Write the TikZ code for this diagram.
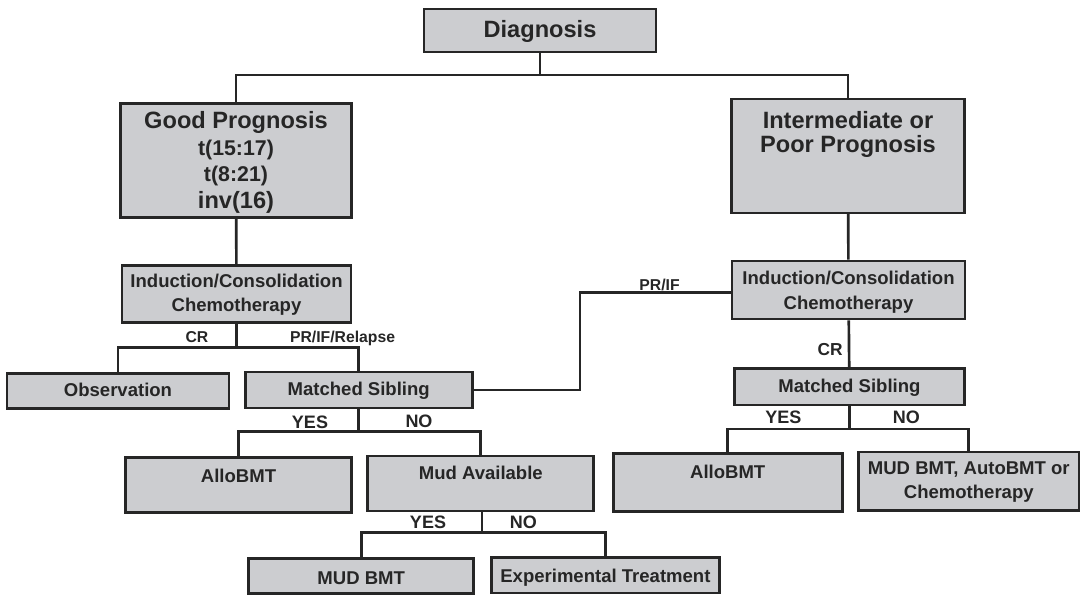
\documentclass[tikz,border=0pt]{standalone}
\usepackage{fontspec}
\setmainfont{Liberation Sans}
\definecolor{boxfill}{RGB}{204,205,208}
\definecolor{ink}{RGB}{38,38,38}
\begin{document}
\begin{tikzpicture}[x=0.75pt,y=-0.75pt,
  box/.style={draw=ink, fill=boxfill, line width=2pt, inner sep=0pt, rectangle},
  conn/.style={draw=ink, line width=2pt},
  txt/.style={anchor=base, inner sep=0pt, text=ink},
  big/.style={txt, font=\fontsize{17.7}{20}\selectfont\bfseries},
  mid/.style={txt, font=\fontsize{16}{18}\selectfont\bfseries},
  med/.style={txt, font=\fontsize{13.9}{16}\selectfont\bfseries},
  lab/.style={txt, font=\fontsize{11.8}{14}\selectfont\bfseries},
  yn/.style={txt, font=\fontsize{13.5}{16}\selectfont\bfseries}]
\useasboundingbox (0,0) rectangle (1083,595);
\fill[white] (0,0) rectangle (1083,595);

% boxes
\node[box, minimum width=174pt, minimum height=32.25pt] (diag) at (540,30.5) {};
\node[box, minimum width=173.25pt, minimum height=85.5pt] (good) at (236,160.3) {};
\node[box, minimum width=174.75pt, minimum height=85.5pt] (inter) at (848,155.9) {};
\node[box, minimum width=171.75pt, minimum height=42.45pt] (ind1) at (236.5,294) {};
\node[box, minimum width=174.75pt, minimum height=43.5pt] (ind2) at (848.5,290) {};
\node[box, minimum width=166.5pt, minimum height=26.55pt] (obs) at (118,391) {};
\node[box, minimum width=170.25pt, minimum height=27pt] (ms1) at (358.7,390) {};
\node[box, minimum width=172.2pt, minimum height=27.2pt] (ms2) at (849.4,386.9) {};
\node[box, minimum width=169.1pt, minimum height=41.25pt] (allo1) at (238.5,484.8) {};
\node[box, minimum width=169.5pt, minimum height=41.25pt] (mud) at (480.8,483.5) {};
\node[box, minimum width=171.75pt, minimum height=43.5pt] (allo2) at (727.7,482.5) {};
\node[box, minimum width=165.3pt, minimum height=44pt] (mudauto) at (968.8,481.4) {};
\node[box, minimum width=168.75pt, minimum height=26.25pt] (mudbmt) at (361.2,575.8) {};
\node[box, minimum width=171pt, minimum height=26.8pt] (exp) at (605.4,575.2) {};

% box texts
\node[big] (tdiag) at (540,37.7) {Diagnosis};
\node[big] (tgood1) at (236,128.4) {Good Prognosis};
\node[mid] (tgood2) at (236,155.3) {t(15:17)};
\node[mid] (tgood3) at (236,181.6) {t(8:21)};
\node[big] (tgood4) at (236,208.4) {inv(16)};
\node[big] (tint1) at (848,128.4) {Intermediate or};
\node[big] (tint2) at (848,152.4) {Poor Prognosis};
\node[med] (tind1a) at (236.5,287.6) {Induction/Consolidation};
\node[med] (tind1b) at (236.5,311.6) {Chemotherapy};
\node[med] (tind2a) at (848.5,285) {Induction/Consolidation};
\node[med] (tind2b) at (848.5,309.3) {Chemotherapy};
\node[med] (tobs) at (118,396.6) {Observation};
\node[med] (tms1) at (358.7,395.6) {Matched Sibling};
\node[med] (tms2) at (849.4,392.6) {Matched Sibling};
\node[med] (tallo1) at (238.5,482.6) {AlloBMT};
\node[med] (tmud) at (480.8,479.9) {Mud Available};
\node[med] (tallo2) at (727.7,478.3) {AlloBMT};
\node[med] (tmudauto1) at (968.8,474.3) {MUD BMT, AutoBMT or};
\node[med] (tmudauto2) at (968.8,498.9) {Chemotherapy};
\node[med] (tmudbmt) at (361.2,584.3) {MUD BMT};
\node[med] (texp) at (605.4,582.3) {Experimental Treatment};

% junction points
\coordinate (j0) at (540,75);
\coordinate (j1) at (236.5,347.7);
\coordinate (j2) at (358.7,431.7);
\coordinate (j3) at (482,532.3);
\coordinate (j4) at (849.4,429);
\coordinate (j5) at (580,292.5);

% connectors
\draw[conn] (diag) -- (j0);
\draw[conn] (good.north) |- (j0) -| (inter.north);
\draw[conn] (good) -- (ind1);
\draw[conn] (inter) -- (ind2);
\draw[conn] (ind1) -- (j1);
\draw[conn] (obs.north) |- (j1) -| (ms1.north);
\draw[conn] (ms1) -- (j2);
\draw[conn] (allo1.north) |- (j2) -| (mud.north);
\draw[conn] (mud.south -| j3) -- (j3);
\draw[conn] (mudbmt.north) |- (j3) -| (exp.north);
\draw[conn] (ind2) -- (ms2);
\draw[conn] (ms2) -- (j4);
\draw[conn] (allo2.north) |- (j4) -| (mudauto.north);
\draw[conn] (ms1.east) -| (j5) -- (j5 -| ind2.west);

% connector labels
\node[lab] (lcr1) at (197,342.6) {CR};
\node[lab] (lpr1) at (342.6,342.6) {PR/IF/Relapse};
\node[lab] (lpr2) at (659.5,290.6) {PR/IF};
\node[yn] (lyes1) at (310,428.1) {YES};
\node[yn] (lno1) at (419,427.1) {NO};
\node[yn] (lyes2) at (428,528.7) {YES};
\node[yn] (lno2) at (523.4,528.4) {NO};
\node[yn] (lyes3) at (783.4,423.7) {YES};
\node[yn] (lno3) at (906.3,423.1) {NO};
\node[txt, font=\fontsize{13}{15}\selectfont\bfseries] (lcr2) at (830.2,355.5) {CR};
\end{tikzpicture}
\end{document}
